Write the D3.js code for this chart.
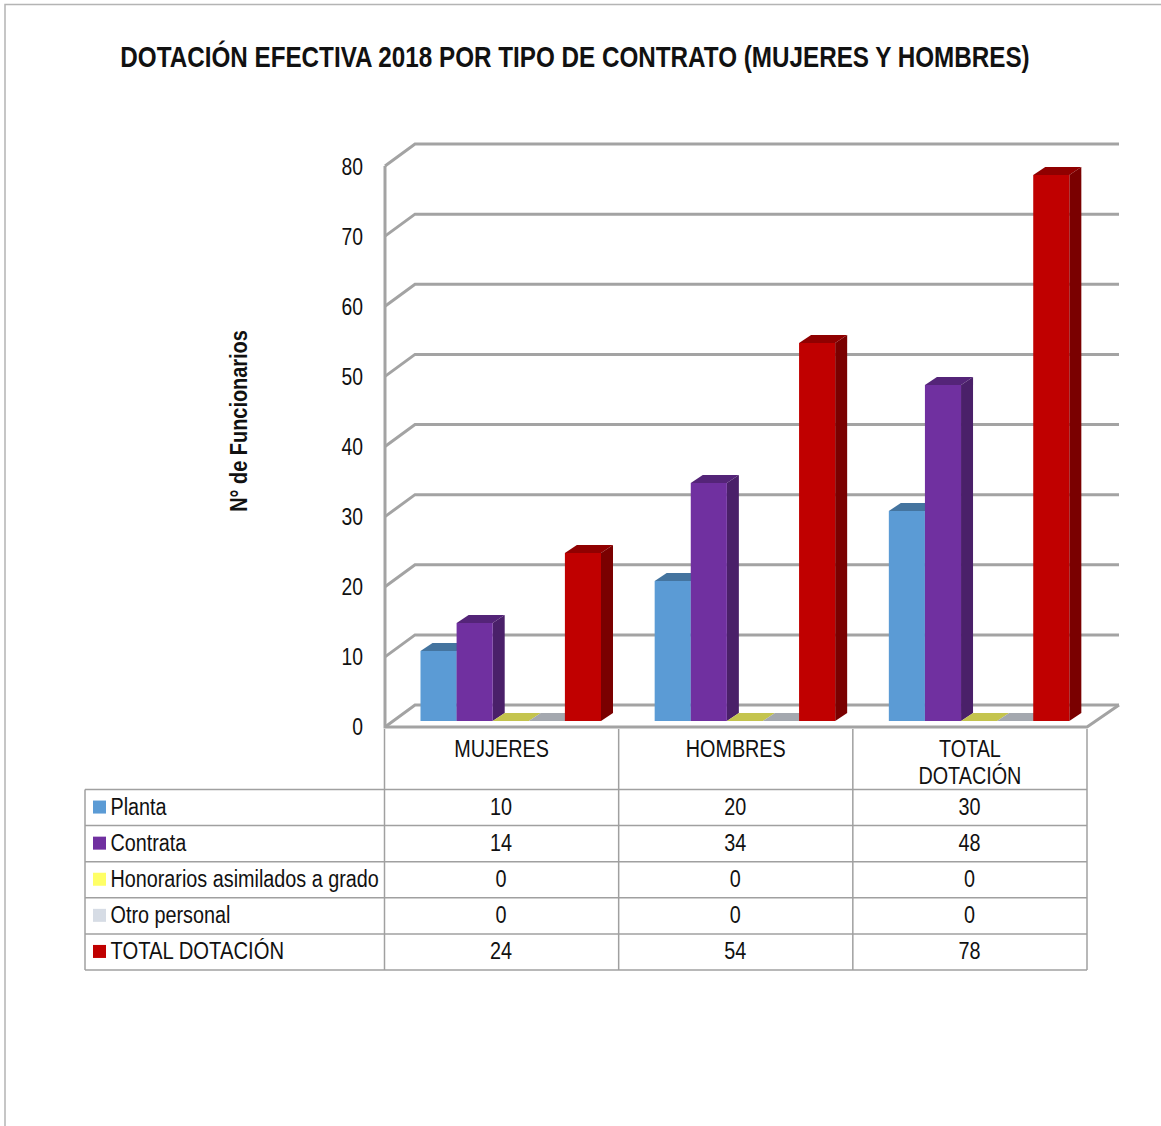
<!DOCTYPE html>
<html>
<head>
<meta charset="utf-8">
<script src="https://cdn.jsdelivr.net/npm/d3@7"></script>
<style>
  html, body { margin: 0; padding: 0; background: #fff; }
  svg { display: block; }
  text { font-family: "Liberation Sans", sans-serif; fill: #111; }
</style>
</head>
<body>
<svg id="chart" width="1161" height="1126"></svg>
<script>
var categories = ["MUJERES", "HOMBRES", "TOTAL DOTACIÓN"];
var seriesNames = ["Planta", "Contrata", "Honorarios asimilados a grado", "Otro personal", "TOTAL DOTACIÓN"];
var planta = [10, 20, 30];
var contrata = [14, 34, 48];
var honorarios = [0, 0, 0];
var otro = [0, 0, 0];
var total = [24, 54, 78];
var yTicks = [0, 10, 20, 30, 40, 50, 60, 70, 80];

var seriesValues = [planta, contrata, honorarios, otro, total];
var legendColors = ["#5b9bd5", "#7030a0", "#ffff66", "#d6dce5", "#c00000"];
var frontColors = ["#5b9bd5", "#7030a0", "#ffff66", "#d6dce5", "#c00000"];
var topColors = ["#44749f", "#542478", "#c4c44e", "#a4a8af", "#900000"];
var sideColors = ["#3c6690", "#4a2069", "#a8a83f", "#8f9399", "#7a0000"];

var svg = d3.select("#chart");
var gray = "#a3a3a3";

// no narrow font installed, so squeeze the glyphs to look like Arial Narrow
function narrow(sel, k) {
  sel.each(function () {
    d3.select(this)
      .attr("lengthAdjust", "spacingAndGlyphs")
      .attr("textLength", this.getComputedTextLength() * k);
  });
}

// page frame
svg.append("path").attr("d", "M5,1126V4.5H1161").attr("fill", "none").attr("stroke", "#b4b4b4").attr("stroke-width", 1.5);

svg.append("text").attr("transform", "translate(575,67) scale(0.836,1)").attr("text-anchor", "middle")
  .attr("font-size", 29).attr("font-weight", "bold").text("DOTACIÓN EFECTIVA 2018 POR TIPO DE CONTRATO (MUJERES Y HOMBRES)");

svg.append("text").attr("transform", "translate(247,421) rotate(-90)").attr("text-anchor", "middle")
  .attr("font-size", 23).attr("font-weight", "bold").text("N° de Funcionarios")
  .call(narrow, 0.866);

// scales: y is the front plane of the wall, yBar the front of the bars, yLabel the tick text
var x = d3.scaleBand().domain(categories).range([384.5, 1087]);
var inner = d3.scaleBand().domain(d3.range(5)).range([36, 216.5]);
var y = d3.scaleLinear().domain([0, 80]).range([727, 166]);
var yBar = d3.scaleLinear().domain([0, 80]).range([721, 161]);
var yLabel = d3.scaleLinear().domain([0, 80]).range([727, 167]);
var wallDx = 30, wallDy = 22;
var barDx = 12, barDy = 8;

// walls and gridlines
var grid = svg.append("g").attr("fill", "none").attr("stroke", gray).attr("stroke-width", 3);
grid.selectAll("path").data(yTicks).enter().append("path")
  .attr("d", function (d) {
    return "M385," + y(d) + "L" + (385 + wallDx) + "," + (y(d) - wallDy) + "H1119";
  });
grid.append("path").attr("d", "M385," + y(80) + "V" + y(0) + "H1087L1119," + (y(0) - wallDy));

// y axis labels
var yAxis = d3.axisLeft(yLabel).tickValues(yTicks).tickSize(0).tickPadding(22);
var axisG = svg.append("g").attr("transform", "translate(385,0)").call(yAxis);
axisG.select(".domain").remove();
axisG.selectAll("text").attr("font-size", 23).style("font-family", '"Liberation Sans", sans-serif').call(narrow, 0.84);

// bars, back to front so that each side face is overlapped by the next bar
seriesNames.forEach(function (name, s) {
  var g = svg.append("g");
  var barW = inner.bandwidth();
  var left = function (i) { return x(categories[i]) + inner(s); };
  var cats = g.selectAll("g").data(seriesValues[s]).enter().append("g");
  // top
  cats.append("path").attr("fill", topColors[s]).attr("d", function (d, i) {
    var x0 = left(i), y0 = yBar(d);
    return "M" + x0 + "," + y0 + "l" + barDx + "," + (-barDy) + "h" + barW + "l" + (-barDx) + "," + barDy + "z";
  });
  // side
  cats.append("path").attr("fill", sideColors[s]).attr("d", function (d, i) {
    var x1 = left(i) + barW, y0 = yBar(d), y1 = yBar(0);
    return "M" + x1 + "," + y0 + "l" + barDx + "," + (-barDy) + "V" + (y1 - barDy) + "l" + (-barDx) + "," + barDy + "z";
  });
  // front
  cats.append("rect").attr("fill", frontColors[s])
    .attr("x", function (d, i) { return left(i); })
    .attr("y", function (d) { return yBar(d); })
    .attr("width", barW)
    .attr("height", function (d) { return yBar(0) - yBar(d); });
});

// data table
var rowY = d3.scaleBand().domain(d3.range(5)).range([789.5, 970]);
var table = svg.append("g").attr("stroke", "#a0a0a0").attr("stroke-width", 1.5).attr("fill", "none");
table.selectAll(".h").data(d3.range(6)).enter().append("line").attr("class", "h")
  .attr("x1", 85).attr("x2", 1087)
  .attr("y1", function (d) { return d < 5 ? rowY(d) : 970; })
  .attr("y2", function (d) { return d < 5 ? rowY(d) : 970; });
table.append("line").attr("x1", 85).attr("x2", 85).attr("y1", 789.5).attr("y2", 970);
table.selectAll(".v").data(d3.range(4)).enter().append("line").attr("class", "v")
  .attr("x1", function (d) { return 384.5 + d * x.bandwidth(); })
  .attr("x2", function (d) { return 384.5 + d * x.bandwidth(); })
  .attr("y1", 729).attr("y2", 970);

// category headers
var headerLines = [["MUJERES"], ["HOMBRES"], ["TOTAL", "DOTACIÓN"]];
categories.forEach(function (c, i) {
  headerLines[i].forEach(function (line, j) {
    svg.append("text").attr("x", x(c) + x.bandwidth() / 2).attr("y", 757 + j * 27)
      .attr("text-anchor", "middle").attr("font-size", 23).text(line).call(narrow, 0.86);
  });
});

// legend rows and values
seriesNames.forEach(function (name, s) {
  var cy = rowY(s) + rowY.bandwidth() / 2;
  svg.append("rect").attr("x", 93).attr("y", cy - 7).attr("width", 13).attr("height", 13).attr("fill", legendColors[s]);
  svg.append("text").attr("x", 110.5).attr("y", cy + 7).attr("font-size", 23).text(name)
    .call(narrow, name === "TOTAL DOTACIÓN" ? 0.88 : 0.86);
  seriesValues[s].forEach(function (v, i) {
    svg.append("text").attr("x", x(categories[i]) + x.bandwidth() / 2 - 0.5).attr("y", cy + 7.5)
      .attr("text-anchor", "middle").attr("font-size", 23).text(v).call(narrow, 0.86);
  });
});
</script>
</body>
</html>
